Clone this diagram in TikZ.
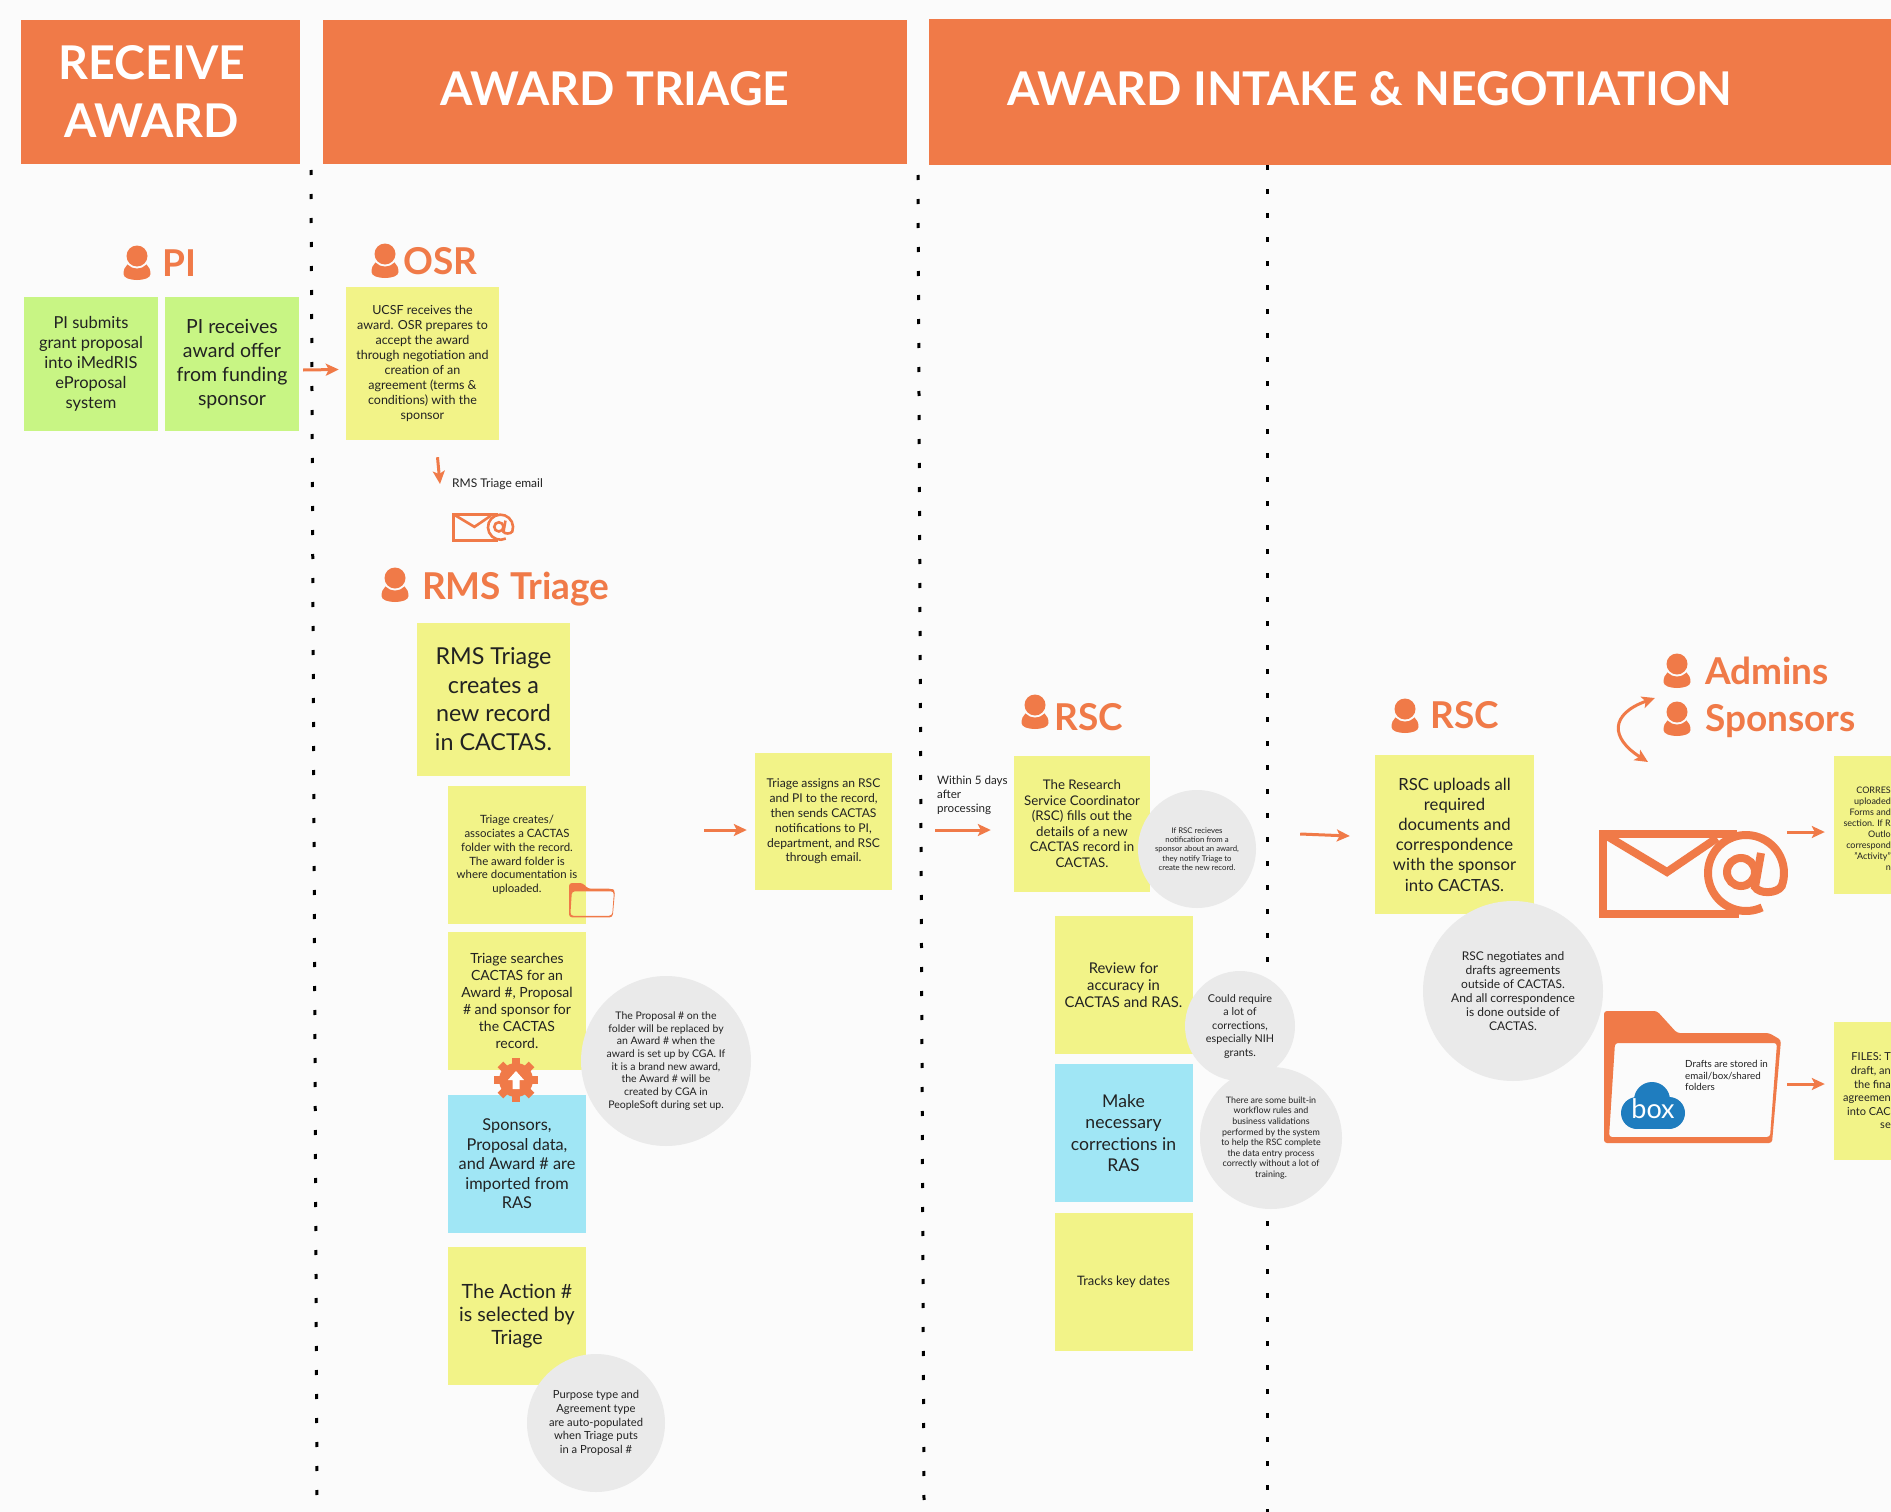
\documentclass[tikz,border=0pt]{standalone}
\usepackage{fontspec}
\setmainfont{Lato}
\usetikzlibrary{arrows.meta, calc, positioning}

\definecolor{pageBg}{HTML}{FBFBFB}
\definecolor{osfOrange}{HTML}{F07A48}
\definecolor{noteYellow}{HTML}{F2F388}
\definecolor{noteGreen}{HTML}{C8F584}
\definecolor{noteBlue}{HTML}{A0E6F5}
\definecolor{noteGrey}{HTML}{EAEAEA}
\definecolor{boxBlue}{HTML}{1F7DBF}
\definecolor{inkDark}{HTML}{222222}

\begin{document}
\begin{tikzpicture}[x=1pt, y=-1pt, >=Stealth]

% --- Styles ---
\tikzset{
    sz/.style 2 args={font=\fontsize{#1}{#2}\selectfont},
    headBar/.style={fill=osfOrange, text=white, inner sep=0pt, align=center},
    headText/.style={font=\fontsize{46.5}{58}\selectfont\bfseries},
    roleText/.style={text=osfOrange, anchor=west, inner sep=0pt, font=\fontsize{37}{40}\selectfont\bfseries},
    noteBox/.style={text=inkDark, inner sep=0pt, align=center, minimum width=#1, minimum height=#1},
    yellowNote/.style={noteBox=#1, fill=noteYellow},
    greenNote/.style={noteBox=#1, fill=noteGreen},
    blueNote/.style={noteBox=#1, fill=noteBlue},
    greyBubble/.style={circle, fill=noteGrey, text=inkDark, inner sep=0pt, align=center, minimum size=#1},
    plainText/.style={text=inkDark, inner sep=0pt},
    flow/.style={osfOrange, line width=3pt, {Stealth[length=13pt, width=12pt, inset=3pt]}-{Stealth[length=13pt, width=12pt, inset=3pt]}},
    flowOne/.style={osfOrange, line width=3pt, -{Stealth[length=13pt, width=12pt, inset=3pt]}},
    divider/.style={black, line width=3pt, dash pattern=on 5pt off 19pt},
    person/.pic={
        \fill[osfOrange] (-13.5,11) .. controls (-13.5,2) and (-7,0) .. (-3,-3) -- (3,-3)
            .. controls (7,0) and (13.5,2) .. (13.5,11) .. controls (13.5,19) and (-13.5,19) .. (-13.5,11) -- cycle;
        \fill[pageBg] (0,-7) circle (12.5);
        \fill[osfOrange] (0,-7) circle (10.5);
    },
    mailIcon/.pic={
        \draw[osfOrange, line join=miter] (138,4) -- (4,4) -- (4,84) -- (140,84);
        \draw[osfOrange] (8,6) -- (68,42) -- (118,8);
        \draw[osfOrange] (147,43) ++(65:38) arc (65:380:38) .. controls (178,64) and (160,64) .. (156,57) -- (162,23);
        \draw[osfOrange] (142,42) circle (14);
    },
    folderIcon/.pic={
        \fill[osfOrange, even odd rule, rounded corners=3pt]
            (0,0) -- (53,0) -- (73,22) -- (165,22) -- (177,29) -- (168,132) -- (0,132) -- cycle
            (11,32) -- (173,32) -- (166,126) -- (5,126) -- cycle;
    },
}

\useasboundingbox (0,0) rectangle (1891,1512);
\fill[pageBg] (0,0) rectangle (1891,1512);

% --- Dotted dividers ---
\draw[divider] (311,170) -- (317,1496);
\draw[divider] (918,175) -- (924,1500);
\draw[divider] (1267,165) -- (1267,1512);

% --- Header bars ---
\node[headBar, minimum width=279, minimum height=144] (headReceive) at (160,92) {};
\node[text=white, headText, align=center, inner sep=0pt] (headReceiveText) at (152,92) {RECEIVE\\AWARD};
\node[headBar, minimum width=584, minimum height=144] (headTriage) at (615,92) {};
\node[text=white, headText, inner sep=0pt] (headTriageText) at (615,89) {AWARD TRIAGE};
\node[headBar, minimum width=962, minimum height=145] (headIntake) at (1410,92) {};
\node[text=white, headText, inner sep=0pt] (headIntakeText) at (1370,89) {AWARD INTAKE \& NEGOTIATION};

% --- Receive award ---
\pic at (137,263) {person};
\node[roleText] (rolePI) at (162,263) {PI};
\node[greenNote=134pt, sz={16.5}{20}] (piSubmit) at (91,364) {PI submits\\grant proposal\\into iMedRIS\\eProposal\\system};
\node[greenNote=134pt, sz={19.5}{24}] (piOffer) at (232,364) {PI receives\\award offer\\from funding\\sponsor};

% --- Award triage ---
\pic at (385,261) {person};
\node[roleText] (roleOSR) at (403,261) {OSR};
\node[yellowNote=153pt, sz={12.5}{15}] (osrBox) at (422.5,363.5) {UCSF receives the\\award. OSR prepares to\\accept the award\\through negotiation and\\creation of an\\agreement (terms \&\\conditions) with the\\sponsor};
\node[plainText, anchor=west, sz={12}{15}] (rmsMailText) at (452,484) {RMS Triage email};
\coordinate (rmsMail) at (483,529);
\pic[scale=.33, line width=2.6pt] at (452,513) {mailIcon};
\pic at (395,585) {person};
\node[roleText] (roleRMS) at (422,589) {RMS Triage};
\node[yellowNote=153pt, sz={23.3}{28.5}] (rmsCreate) at (493.5,699) {RMS Triage\\creates a\\new record\\in CACTAS.};
\node[yellowNote=138pt, sz={11.4}{13.8}] (triageCreates) at (517,855) {Triage creates/\\associates a CACTAS\\folder with the record.\\The award folder is\\where documentation is\\uploaded.};
\pic[scale=.26] at (569,883) {folderIcon};
\node[yellowNote=138pt, sz={14}{17}] (triageSearch) at (517,1001) {Triage searches\\CACTAS for an\\Award \#, Proposal\\\# and sponsor for\\the CACTAS\\record.};
\node[blueNote=138pt, sz={16.3}{19.5}] (triageRas) at (517,1164) {Sponsors,\\Proposal data,\\and Award \# are\\imported from\\RAS};
% gear between search and import
\foreach \ang in {0,45,...,315} {
    \fill[osfOrange, rotate around={\ang:(516,1080)}] (512,1058) rectangle (520,1066);
}
\fill[osfOrange] (516,1080) circle (17);
\fill[white] (516,1071) -- (524,1080) -- (519.5,1080) -- (519.5,1089) -- (512.5,1089) -- (512.5,1080) -- (508,1080) -- cycle;
\node[greyBubble=170pt, sz={10.5}{12.7}] (proposalNote) at (666,1061) {The Proposal \# on the\\folder will be replaced by\\an Award \# when the\\award is set up by CGA. If\\it is a brand new award,\\the Award \# will be\\created by CGA in\\PeopleSoft during set up.};
\node[yellowNote=138pt, sz={19.6}{23}] (triageAction) at (517,1316) {The Action \#\\is selected by\\Triage};
\node[greyBubble=138pt, sz={11.2}{13.7}] (actionNote) at (596,1423) {Purpose type and\\Agreement type\\are auto-populated\\when Triage puts\\in a Proposal \#};
\node[yellowNote=137pt, sz={12.1}{14.8}] (triageAssign) at (823.5,821.5) {Triage assigns an RSC\\and PI to the record,\\then sends CACTAS\\notifications to PI,\\department, and RSC\\through email.};

% --- Intake first column ---
\node[plainText, anchor=north west, align=left, sz={11.6}{14}] (withinText) at (937,776) {Within 5 days\\after\\processing};
\pic at (1035,712) {person};
\node[roleText] (roleRSCa) at (1054,717) {RSC};
\node[yellowNote=136pt, sz={13.3}{15.5}] (rscFill) at (1082,823.5) {The Research\\Service Coordinator\\(RSC) fills out the\\details of a new\\CACTAS record in\\CACTAS.};
\node[greyBubble=118pt, sz={7.8}{9.4}] (rscNote) at (1197,849) {If RSC recieves\\notification from a\\sponsor about an award,\\they notify Triage to\\create the new record.};
\node[yellowNote=138pt, sz={14.8}{17}] (rscReview) at (1123.5,985) {Review for\\accuracy in\\CACTAS and RAS.};
\node[greyBubble=110pt, sz={10.8}{13.5}] (reviewNote) at (1240,1026) {Could require\\a lot of\\corrections,\\especially NIH\\grants.};
\node[blueNote=138pt, sz={17.6}{21.5}] (rscFix) at (1123.5,1133) {Make\\necessary\\corrections in\\RAS};
\node[greyBubble=142pt, sz={8.9}{10.6}] (fixNote) at (1271,1138) {There are some built-in\\workflow rules and\\business validations\\performed by the system\\to help the RSC complete\\the data entry process\\correctly without a lot of\\training.};
\node[yellowNote=138pt, sz={13}{15}] (rscDates) at (1123.5,1281.5) {Tracks key dates};

% --- Intake second column ---
\pic at (1405,716) {person};
\node[roleText] (roleRSCb) at (1430,715) {RSC};
\node[yellowNote=159pt, sz={16.7}{20.2}] (rscUpload) at (1454.5,834.5) {RSC uploads all\\required\\documents and\\correspondence\\with the sponsor\\into CACTAS.};
\node[greyBubble=180pt, sz={12}{14}] (uploadNote) at (1513,991) {RSC negotiates and\\drafts agreements\\outside of CACTAS.\\And all correspondence\\is done outside of\\CACTAS.};
\pic at (1677,671) {person};
\node[roleText] (roleAdmins) at (1705,671) {Admins};
\pic at (1677,719) {person};
\node[roleText] (roleSponsors) at (1705,721) {Sponsors};
\coordinate (talkTop) at (1655,698);
\coordinate (talkBottom) at (1648,762);
\draw[flow] (talkTop) .. controls (1610,714) and (1610,738) .. (talkBottom);

% --- Mail and folder icons ---
\coordinate (mailBig) at (1693,874);
\pic[line width=8pt] at (1599,830) {mailIcon};
\coordinate (folderBig) at (1693,1077);
\pic at (1604,1011) {folderIcon};
\node[plainText, anchor=north west, align=left, sz={9.8}{11.6}] (draftsText) at (1685,1060) {Drafts are stored in\\email/box/shared\\folders};
% box logo
\fill[boxBlue] (1652,1100) circle (18);
\fill[boxBlue] (1637,1113) circle (16);
\fill[boxBlue] (1669,1113) circle (16);
\fill[boxBlue] (1637,1107) rectangle (1669,1129);
\node[text=white, inner sep=0pt, font=\fontsize{27}{30}\selectfont] (boxLogo) at (1653,1109) {box};

\node[yellowNote=57pt, minimum height=138pt] (corrBox) at (1862.5,824.5) {};
\node[plainText, anchor=east, align=right, sz={9}{11}] (corrText) at (1891,829) {CORRES\\uploaded\\Forms and\\section.  If R\\Outlo\\correspond\\"Activity"\\n};
\node[yellowNote=57pt, minimum height=138pt] (filesBox) at (1862.5,1091) {};
\node[plainText, anchor=east, align=right, sz={11}{13.6}] (filesText) at (1891,1091) {FILES: T\\draft, an\\the fina\\agreemen\\into CAC\\se};

% --- Arrows ---
\draw[flowOne] ($(piOffer.east)+(4,6)$) -- ($(osrBox.west)+(-7,6)$);
\draw[flowOne] ($(osrBox.south)+(15,17)$) -- ($(rmsMail)+(-43,-45)$);
\draw[flowOne] ($(triageCreates.east)+(118,-25)$) -- ($(triageAssign.west)+(-8,8.5)$);
\draw[flowOne] ($(triageAssign.east)+(43,8.5)$) -- ($(rscFill.west)+(-23,6.5)$);
\draw[flowOne] ($(rscFill.east)+(150,10.5)$) -- ($(rscUpload.west)+(-25,1.5)$);
\draw[flowOne] ($(mailBig)+(94,-42)$) -- ($(corrBox.west)+(-9,7.5)$);
\draw[flowOne] ($(folderBig)+(94,7)$) -- ($(filesBox.west)+(-9,-7)$);

\end{tikzpicture}
\end{document}
